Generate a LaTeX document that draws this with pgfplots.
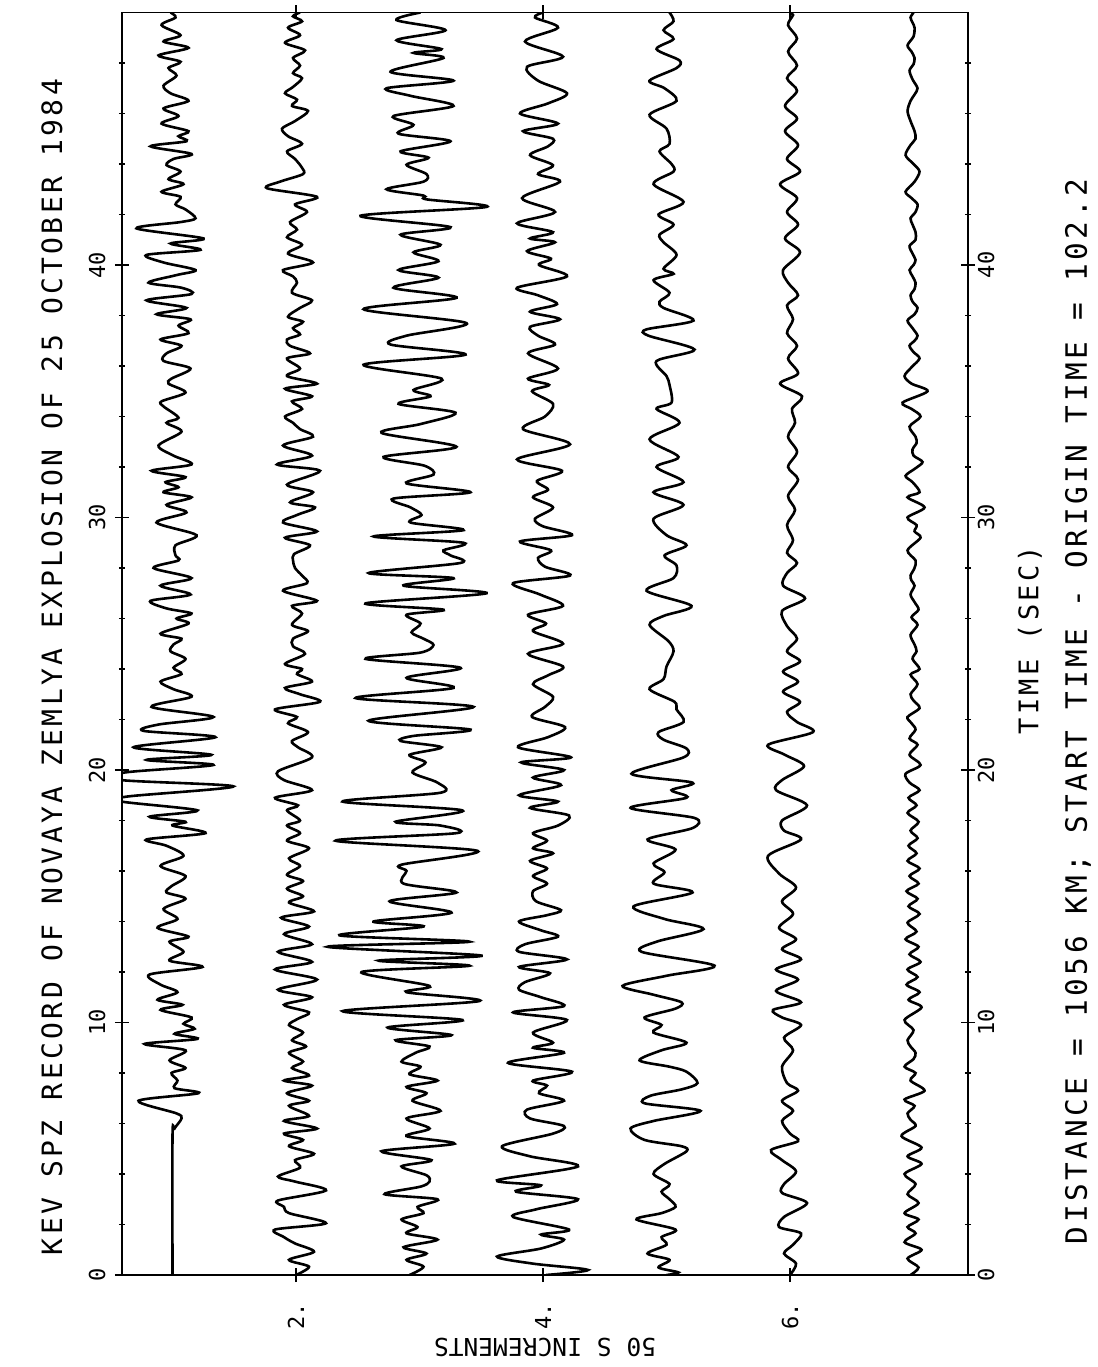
\documentclass[border=0pt]{standalone}
\usepackage{pgfplots}
\pgfplotsset{compat=1.18}
\usepackage{pgfplotstable}
\usepackage{fontspec}
\setmainfont{DejaVu Sans Mono}
\newfontfamily\plotfont[LetterSpace=12]{DejaVu Sans Mono}

% columns: t = time (s), d = deflection from trace baseline (image px, 123.5 px = 1 trace unit)
\pgfplotstableread{
t d
0 0
5.5 0
5.8 2
6.2 9
6.4 4
6.9 -34
7.2 26
7.4 2
7.7 5
8.0 -1
8.2 13
8.5 -3
8.9 13
9.15 -28
9.35 25
9.55 2
9.75 22
9.95 11
10.2 19
10.5 -12
10.7 10
10.9 -15
11.2 5
11.5 -12
11.9 -23
12.2 30
12.45 -3
12.8 11
13.2 -3
13.4 16
13.75 -15
14.1 5
14.5 -9
14.9 13
15.15 -6
15.4 -1
15.8 13
16.2 -12
16.6 11
17.0 -6
17.25 -26
17.5 33
17.8 0
17.95 13
18.15 -23
18.4 25
18.75 -51
18.95 -45
19.35 61
19.6 -51
19.9 -48
20.2 41
20.4 -26
20.6 39
20.9 -39
21.3 43
21.55 -29
21.8 -14
22.1 41
22.5 -21
22.9 19
23.2 1
23.5 -12
23.8 9
24.05 1
24.4 13
24.7 -2
24.97 1
25.2 9
25.4 -12
25.8 16
26.0 4
26.2 19
26.4 -6
26.7 -22
26.95 18
27.3 -12
27.6 19
28.0 -19
28.3 6
28.5 3
28.9 3
29.3 24
29.8 -16
30.2 14
30.5 -6
30.8 19
31.0 -9
31.2 6
31.4 -7
31.6 13
31.85 -21
32.1 19
32.45 1
32.85 -14
33.4 9
33.75 -6
33.95 6
34.4 -9
34.6 -11
34.95 13
35.3 -4
35.5 -1
35.9 18
36.2 -9
36.5 -6
36.8 9
37.05 -12
37.3 16
37.6 6
37.85 18
38.05 -16
38.3 14
38.6 -26
38.85 19
39.1 9
39.3 -24
39.6 4
39.8 23
40.1 -9
40.4 -26
40.6 28
40.85 -2
41.05 31
41.45 -36
41.7 8
41.85 23
42.2 13
42.4 3
42.7 8
42.9 -11
43.2 11
43.4 -4
43.7 8
43.96 -6
44.2 1
44.4 19
44.7 -22
44.9 14
45.1 6
45.3 16
45.6 -11
45.9 6
46.2 -9
46.5 16
46.8 -2
47.1 -9
47.5 4
47.8 -4
48.05 8
48.3 -14
48.6 16
48.85 -9
49.1 8
49.5 -11
49.8 3
50.0 -2
}\traceA

\pgfplotstableread{
t d
0 0
0.33 13
0.6 -7
0.92 18
1.25 -1
1.5 -12
1.8 -21
2.05 30
2.45 -7
2.7 -12
2.95 -18
3.35 30
3.7 -1
3.9 -18
4.25 4
4.55 -1
4.8 18
5.1 -7
5.35 7
5.6 -12
5.8 21
6.1 -12
6.3 13
6.7 -7
6.9 13
7.2 -9
7.5 16
7.7 -12
7.9 13
8.2 -4
8.45 7
8.8 -7
9.05 10
9.3 -4
9.6 7
9.9 -7
10.15 2
10.4 13
10.7 -12
11.0 16
11.3 -18
11.7 21
12.1 -21
12.4 16
12.8 -18
13.1 16
13.5 -12
13.8 13
14.15 -15
14.4 18
14.75 -7
15.0 7
15.3 -9
15.6 7
15.85 -9
16.2 4
16.5 -7
16.9 13
17.2 -9
17.5 4
17.8 -9
18.0 4
18.4 -9
18.6 2
18.9 -21
19.2 16
19.6 -12
19.95 -18
20.5 16
20.9 2
21.15 -4
21.5 12
21.85 -8
22.1 1
22.4 -21
22.7 24
23.0 4
23.25 -11
23.5 16
23.8 1
24.0 6
24.2 -11
24.6 9
24.9 -3
25.2 -3
25.5 12
25.75 -4
26.2 6
26.5 -4
26.7 21
27.1 -13
27.4 11
27.7 6
28.0 -1
28.3 -3
28.55 -2
28.9 14
29.2 -11
29.45 21
29.8 -13
30.1 1
30.4 19
30.6 -6
31.0 17
31.3 -9
31.85 24
32.1 -19
32.45 16
32.85 -13
33.2 17
33.5 4
33.75 -3
34.0 -11
34.3 6
34.6 -4
34.8 16
35.1 -11
35.3 21
35.6 -9
35.9 4
36.3 -9
36.5 14
36.8 -6
37.05 -9
37.25 4
37.5 -3
37.75 7
37.95 -8
38.3 4
38.6 16
38.9 -4
39.3 1
39.55 -3
39.8 -13
40.1 17
40.45 -8
40.8 6
41.1 -9
41.4 1
41.7 -6
42.1 11
42.4 -1
42.7 21
43.04 -29
43.3 -16
43.6 7
43.85 6
44.2 -1
44.5 -9
44.8 6
45.1 -8
45.4 -14
45.7 -1
46.1 12
46.3 -4
46.55 1
46.8 -11
47.05 -3
47.4 6
47.6 -3
47.9 4
48.2 -3
48.5 9
48.8 -11
49.1 4
49.4 -8
49.65 6
49.85 -3
50.0 4
}\traceB

\pgfplotstableread{
t d
0 -10
0.33 4
0.6 -13
0.85 7
1.1 -16
1.4 18
1.65 -13
1.9 -2
2.2 -18
2.45 4
2.7 -2
3.0 18
3.2 -35
3.5 1
3.7 10
3.95 7
4.3 -18
4.55 12
4.9 -38
5.2 35
5.5 -13
5.8 10
6.2 -13
6.5 21
6.9 -7
7.2 7
7.45 -13
7.7 18
7.95 -10
8.25 1
8.45 -18
8.8 -4
9.05 10
9.3 -24
9.5 32
9.8 -32
10.1 43
10.45 -77
10.85 60
11.2 -13
11.45 10
12.0 -58
12.25 50
12.45 -41
12.65 62
13.0 -92
13.2 50
13.45 -80
13.8 4
14.0 -46
14.35 32
14.8 -30
15.15 37
15.5 -16
16.0 -13
16.25 -18
16.8 58
17.2 -84
17.5 37
17.8 21
17.95 -24
18.4 43
18.75 -77
19.1 21
19.5 18
19.9 -7
20.3 6
20.6 -10
20.9 22
21.15 -19
21.35 -6
21.6 51
21.95 -51
22.5 54
22.85 -64
23.25 34
23.65 -13
24.05 41
24.4 -54
24.65 1
24.95 14
25.2 4
25.45 -8
25.8 1
26.15 -13
26.35 24
26.6 -54
27.0 67
27.3 -16
27.6 34
27.8 -51
28.2 41
28.5 31
28.7 24
29.0 44
29.25 -46
29.5 44
29.8 -9
30.1 2
30.4 -9
30.75 -26
31.0 51
31.35 -13
31.7 14
32.05 5
32.4 -36
32.8 37
33.35 -38
33.7 1
34.15 36
34.5 -21
34.8 11
35.05 -6
35.5 22
36.05 -56
36.45 46
36.85 -29
37.2 -13
37.7 47
38.25 -56
38.7 37
39.1 -26
39.5 19
39.8 -21
40.15 19
40.5 -6
40.8 21
41.2 -19
41.5 31
41.95 -59
42.3 67
42.6 7
42.75 4
43.0 -33
43.3 4
43.6 7
43.97 -13
44.25 9
44.5 -19
44.9 31
45.2 -21
45.55 -6
45.9 -26
46.3 34
46.7 -9
47.0 -33
47.3 34
47.65 -29
48.2 24
48.4 -6
48.55 22
48.9 -23
49.3 26
49.7 -23
50.0 1
}\traceC

\pgfplotstableread{
t d
0 3
0.2 45
0.45 -10
0.73 -46
1.05 -2
1.4 21
1.6 -2
1.8 26
2.3 -30
2.6 -7
3.0 35
3.3 -27
3.55 -2
3.75 -46
4.3 35
4.7 -13
5.1 -41
5.6 10
5.9 21
6.2 -13
6.55 -16
6.9 21
7.2 -4
7.5 4
7.7 -10
8.05 29
8.4 -35
8.8 21
9.0 -10
9.2 10
9.6 -10
10.1 24
10.4 -30
10.65 21
11.0 -2
11.3 -24
11.6 -18
11.95 7
12.2 -24
12.5 24
12.8 -24
13.1 -18
13.4 15
13.65 -2
14.0 -24
14.25 4
14.45 18
14.8 -7
15.2 -10
15.5 4
15.8 -10
16.1 4
16.4 -13
16.7 10
16.9 -10
17.2 4
17.5 -10
17.8 15
18.2 26
18.5 -13
18.75 15
19.0 -24
19.4 18
19.7 -10
20.0 21
20.3 -22
20.5 28
20.9 -25
21.3 5
21.7 22
22.1 -11
22.5 2
22.9 10
23.4 -10
23.75 5
24.1 20
24.6 -15
25.0 20
25.5 -10
25.8 3
26.15 -15
26.5 20
26.95 -3
27.4 -30
27.7 27
28.05 2
28.4 -5
28.7 8
29.05 -23
29.3 29
29.65 0
29.95 -8
30.4 10
30.8 -10
31.1 5
31.45 -6
31.85 19
32.3 -26
32.9 27
33.5 -20
34.0 2
34.5 10
35.0 -11
35.25 6
35.5 -15
35.9 15
36.5 -15
36.85 12
37.2 -5
37.55 -13
37.85 17
38.15 -13
38.45 14
38.8 -5
39.1 -26
39.55 24
40.0 -4
40.25 8
40.55 -16
40.9 12
41.05 -13
41.3 10
41.65 -26
42.1 12
42.65 -21
43.3 17
43.6 -5
43.95 10
44.35 -13
44.7 5
45.0 10
45.3 -20
45.6 15
46.0 -23
46.4 5
46.8 24
47.3 -5
47.85 -16
48.25 20
48.85 -18
49.4 15
49.8 -8
50.0 0
}\traceD

\pgfplotstableread{
t d
0 0
0.1 12
0.3 -8
0.6 3
0.85 -19
1.2 0
1.5 -5
1.8 9
2.2 -30
2.45 -5
2.7 9
3.0 3
3.3 -5
3.6 3
4.0 -13
4.4 -2
4.9 20
5.1 15
5.35 -22
5.8 -36
6.1 -13
6.5 34
6.8 -22
7.1 -16
7.35 15
7.6 31
8.05 20
8.25 3
8.5 -27
8.9 -5
9.2 20
9.6 -13
9.9 -5
10.2 -22
10.55 9
10.8 15
11.1 -13
11.45 -44
11.85 0
12.25 48
12.8 -25
13.2 -10
13.7 37
14.1 -2
14.6 -33
15.15 26
15.5 -13
15.95 -2
16.3 -13
16.85 9
17.25 -19
17.7 26
18.1 28
18.5 -36
18.9 20
19.2 5
19.5 26
19.85 -35
20.5 17
20.85 20
21.2 -3
21.5 -8
21.9 17
22.4 10
22.7 8
23.2 -17
23.6 -3
24.1 0
24.7 7
25.1 2
25.75 -17
26.1 -3
26.5 25
27.1 -20
27.6 7
28.1 10
28.5 -2
28.9 20
29.3 0
29.95 -13
30.5 17
31.0 -13
31.4 17
32.0 -10
32.4 12
33.1 -17
33.75 13
34.3 -10
34.55 5
35.25 3
35.6 0
36.2 -10
36.65 28
37.2 -18
37.45 -20
37.8 27
38.3 -3
38.55 -7
38.9 3
39.4 -13
39.65 7
39.85 -3
40.4 10
40.9 -3
41.2 -7
41.6 7
42.0 -8
42.5 17
43.2 -13
43.7 7
44.0 5
44.5 -7
44.8 3
45.4 0
45.95 -17
46.5 10
47.0 -2
47.3 -17
47.8 10
48.1 13
48.55 -10
48.95 7
49.3 -3
49.65 7
50.0 3
}\traceE

\pgfplotstableread{
t d
0 0
0.45 6
0.85 -6
1.2 3
1.65 11
1.9 -11
2.3 -6
2.85 17
3.25 -8
3.6 -6
4.1 6
4.55 -8
4.95 -19
5.3 8
5.6 0
6.1 -8
6.5 3
6.9 -8
7.3 8
7.6 -3
8.25 -8
8.9 3
9.4 -6
9.9 11
10.2 -8
10.5 -17
10.8 11
11.25 -14
11.7 8
12.1 -14
12.5 11
12.9 -8
13.3 6
13.75 -11
14.3 3
14.8 -8
15.35 6
15.9 -11
16.6 -22
17.25 11
17.6 -6
18.0 -8
18.6 17
19.2 -14
19.6 -8
20.15 14
20.6 -5
21.0 -22
21.5 23
21.9 7
22.3 -3
22.7 10
23.1 -7
23.5 8
23.9 -7
24.3 10
24.7 -3
25.2 7
25.7 -3
26.3 -8
26.8 15
27.3 -7
27.8 -3
28.2 7
28.6 -3
29.1 3
29.7 -3
30.3 5
30.85 -2
31.5 8
32.0 -2
32.6 7
33.2 -2
33.75 5
34.3 2
34.8 12
35.3 -10
35.7 8
36.3 -2
36.8 7
37.3 -3
37.85 3
38.4 -3
38.8 8
39.3 -2
39.8 -7
40.5 10
41.05 -5
41.6 8
42.1 -3
42.65 7
43.2 -10
43.7 10
44.2 -3
44.75 8
45.3 -5
45.8 7
46.3 -5
46.9 7
47.4 -3
47.9 7
48.45 -2
48.97 7
49.5 -2
49.9 3
50.0 0
}\traceF

\pgfplotstableread{
t d
0 -3
0.3 5
0.65 -6
1.0 8
1.3 -9
1.65 2
1.9 -6
2.2 5
2.45 -9
2.85 5
3.2 -6
3.6 2
4.0 -9
4.4 8
4.7 -6
5.05 8
5.5 -12
5.9 2
6.15 -3
6.4 -6
6.7 1
6.95 -9
7.3 11
7.7 -3
8.0 2
8.25 -9
8.55 0
8.8 2
9.05 -3
9.3 -6
9.7 0
10.1 -9
10.6 8
10.9 -5
11.2 6
11.5 -7
11.8 4
12.1 -6
12.4 7
12.7 -4
13.0 5
13.3 -8
13.6 3
13.95 -6
14.3 6
14.6 -5
14.9 4
15.2 -7
15.5 5
15.8 -4
16.1 6
16.4 -6
16.7 3
17.0 -5
17.3 4
17.6 -3
17.95 5
18.3 -6
18.6 3
18.9 -5
19.2 6
19.5 -4
19.85 -8
20.2 7
20.6 -4
21.0 4
21.25 -4
21.6 2
21.85 -2
22.1 -6
22.45 6
22.75 0
23.0 -3
23.4 4
23.78 -3
24.0 6
24.4 -1
24.7 3
24.97 1
25.35 -3
25.75 4
26.05 -2
26.35 5
26.65 1
26.95 -3
27.3 1
27.5 -2
27.7 -3
28.0 1
28.3 2
28.7 -6
29.2 7
29.45 1
29.7 3
30.0 -6
30.4 11
30.8 -6
31.0 6
31.4 -1
31.65 -8
31.95 2
32.2 9
32.45 0
32.7 -1
32.95 3
33.2 2
33.6 -4
34.0 7
34.3 -2
34.55 -11
35.0 14
35.3 -2
35.6 -9
35.95 -2
36.3 6
36.55 0
36.8 -4
37.0 1
37.2 4
37.5 -1
37.8 -6
38.05 1
38.3 4
38.55 -1
38.8 -3
39.05 1
39.3 2
39.55 -1
39.8 -4
40.0 0
40.2 2
40.45 -1
40.75 -4
41.0 2
41.3 2
41.6 -1
41.85 -3
42.1 2
42.4 4
42.65 -2
42.9 -8
43.3 1
43.7 6
44.0 0
44.35 -8
44.75 -3
45.0 2
45.3 1
45.7 -3
46.1 -6
46.5 -3
46.75 1
47.0 4
47.35 -1
47.7 -4
47.95 0
48.2 1
48.45 -2
48.7 -6
49.05 0
49.4 1
49.6 -1
49.8 -3
50.0 0
}\traceG

\pgfplotsset{
  seis/.style={black, line width=1.3pt, smooth, tension=0.5, no marks},
}

\begin{document}
\begin{tikzpicture}
\begin{axis}[
  name=ax, at={(0,0)}, anchor=south west,
  scale only axis, width=423pt, height=631.25pt,
  xmin=0.591, xmax=7.441, ymin=0, ymax=50,
  axis line style={line width=0.8pt},
  every tick/.style={black, line width=0.8pt},
  tick align=center,
  major tick length=7pt, minor tick length=3pt,
  xtick={2,4,6}, xticklabels={2.,4.,6.},
  xtick pos=both, xticklabel pos=lower,
  ytick={0,10,20,30,40}, yticklabels={0,10,20,30,40},
  minor ytick={2,4,6,8,12,14,16,18,22,24,26,28,32,34,36,38,42,44,46,48},
  ytick pos=both, yticklabel pos=left,
  /pgf/number format/assume math mode=true,
  ticklabel style={font=\fontsize{11}{12}\selectfont},
  xticklabel style={anchor=center, yshift=-17pt, rotate=90},
  yticklabel style={anchor=center, xshift=-9pt, rotate=90},
  xlabel={50 S INCREMENTS},
  xlabel style={at={(axis description cs:0.5,0)}, anchor=center, yshift=-36pt, rotate=180, font=\fontsize{12.3}{14}\selectfont},
]
\addplot[seis] table[x expr=\thisrow{d}/123.5+1, y=t] {\traceA};
\addplot[seis] table[x expr=\thisrow{d}/123.5+2, y=t] {\traceB};
\addplot[seis] table[x expr=\thisrow{d}/123.5+3, y=t] {\traceC};
\addplot[seis] table[x expr=\thisrow{d}/123.5+4, y=t] {\traceD};
\addplot[seis] table[x expr=\thisrow{d}/123.5+5, y=t] {\traceE};
\addplot[seis] table[x expr=\thisrow{d}/123.5+6, y=t] {\traceF};
\addplot[seis] table[x expr=\thisrow{d}/123.5+7, y=t] {\traceG};
\end{axis}
\begin{axis}[
  at={(0,0)}, anchor=south west,
  scale only axis, width=423pt, height=631.25pt,
  xmin=0.591, xmax=7.441, ymin=0, ymax=50,
  axis line style={draw=none}, tick style={draw=none},
  xtick=\empty,
  ytick={0,10,20,30,40}, yticklabels={0,10,20,30,40},
  ytick pos=right, yticklabel pos=right,
  ticklabel style={font=\fontsize{11}{12}\selectfont},
  yticklabel style={anchor=center, xshift=9pt, rotate=90},
]
\end{axis}
\node[rotate=90, anchor=center, font=\plotfont\fontsize{14}{16}\selectfont] at (-35pt,304pt)
  {KEV SPZ RECORD OF NOVAYA ZEMLYA EXPLOSION OF 25 OCTOBER 1984};
\node[rotate=90, anchor=center, font=\plotfont\fontsize{13.5}{16}\selectfont] at (454pt,317.5pt)
  {TIME (SEC)};
\node[rotate=90, anchor=center, font=\plotfont\fontsize{14.7}{16}\selectfont] at (478pt,281.75pt)
  {DISTANCE = 1056 KM; START TIME - ORIGIN TIME = 102.2};
\pgfresetboundingbox
\path[use as bounding box] (-61pt,-46pt) rectangle (488pt,637.5pt);
\end{tikzpicture}
\end{document}
